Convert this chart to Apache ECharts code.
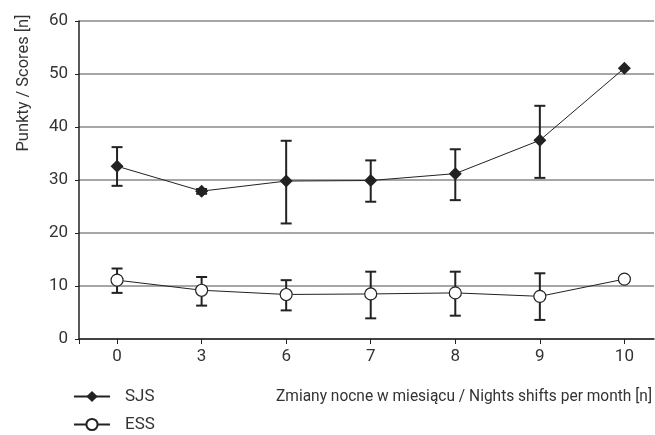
<!DOCTYPE html>
<html><head><meta charset="utf-8">
<script src="https://cdn.jsdelivr.net/npm/echarts@6/dist/echarts.min.js"></script>
<style>html,body{margin:0;padding:0;background:#fff}#c{width:655px;height:435px}</style>
</head><body><div id="c"></div>
<script>
var categories = ['0','3','6','7','8','9','10'];
var sjsValues = [32.6, 27.9, 29.8, 29.9, 31.2, 37.5, 51.1];
var sjsLow =    [28.9, 27.4, 21.8, 25.9, 26.2, 30.4, null];
var sjsHigh =   [36.2, 28.3, 37.4, 33.7, 35.8, 44.0, null];
var essValues = [11.1, 9.2, 8.4, 8.5, 8.7, 8.05, 11.3];
var essLow =    [8.7, 6.3, 5.4, 3.9, 4.4, 3.6, null];
var essHigh =   [13.3, 11.7, 11.1, 12.7, 12.7, 12.4, null];
var yTicks = [0, 10, 20, 30, 40, 50, 60];
var xTitle = 'Zmiany nocne w miesiącu / Nights shifts per month [n]';
var yTitle = 'Punkty / Scores [n]';

var FONT = "Roboto, 'Liberation Sans', sans-serif";
var idx = categories.map(function(_, i){ return i; });

function measure(t, size){
  var ctx = document.createElement('canvas').getContext('2d');
  ctx.font = size + 'px ' + FONT;
  return ctx.measureText(t).width;
}
var xScale = 376 / measure(xTitle, 17);
var yScale = 137 / measure(yTitle, 17);

function errData(lo, hi){
  var d = [];
  for (var i = 0; i < lo.length; i++) if (lo[i] != null) d.push([i, lo[i], hi[i]]);
  return d;
}
function errRender(params, api){
  var x = api.value(0);
  var a = api.coord([x, api.value(1)]);
  var b = api.coord([x, api.value(2)]);
  var w = 5.5;
  var st = {stroke:'#222', lineWidth:2};
  return {type:'group', children:[
    {type:'line', shape:{x1:a[0],y1:a[1],x2:b[0],y2:b[1]}, style:st},
    {type:'line', shape:{x1:a[0]-w,y1:a[1],x2:a[0]+w,y2:a[1]}, style:st},
    {type:'line', shape:{x1:b[0]-w,y1:b[1],x2:b[0]+w,y2:b[1]}, style:st}
  ]};
}
function legendFor(name, top){
  return {orient:'horizontal', left:73, top:top, padding:0, itemWidth:36, itemHeight:14,
    textStyle:{color:'#333', fontFamily:FONT, fontSize:17, padding:[0,0,0,10]},
    data:[name]};
}

var chart = echarts.init(document.getElementById('c'), null, {renderer:'canvas'});
chart.setOption({
  animation:false,
  backgroundColor:'#fff',
  grid:{left:79, right:1, top:21, bottom:96, containLabel:false},
  xAxis:{
    type:'value', min:-0.45, max:6.35,
    axisLine:{show:true, onZero:false, lineStyle:{color:'#222', width:1.5}},
    axisTick:{show:true, length:5, customValues:[-0.45].concat(idx), lineStyle:{color:'#222', width:1}},
    axisLabel:{customValues:idx, formatter:function(v){ return categories[Math.round(v)]; },
      color:'#333', fontFamily:FONT, fontSize:17, margin:9},
    splitLine:{show:false}
  },
  yAxis:{
    type:'value', min:0, max:60, interval:10,
    axisLine:{show:true, onZero:false, lineStyle:{color:'#222', width:1.5}},
    axisTick:{show:true, length:4, lineStyle:{color:'#222', width:1}},
    axisLabel:{color:'#333', fontFamily:FONT, fontSize:17, margin:11,
      formatter:function(v){ return yTicks.indexOf(v) >= 0 ? String(v) : ''; }},
    splitLine:{show:true, lineStyle:{color:'#888', width:1.5}}
  },
  legend:[legendFor('SJS', 388), legendFor('ESS', 416)],
  graphic:[
    {type:'text', x:24, y:83, rotation:Math.PI/2, scaleX:yScale,
      style:{text:yTitle, fill:'#333', font:"17px " + FONT, textAlign:'center', textVerticalAlign:'middle'}},
    {type:'text', x:652, y:397, scaleX:xScale,
      style:{text:xTitle, fill:'#333', font:"17px " + FONT, textAlign:'right', textVerticalAlign:'middle'}}
  ],
  series:[
    {type:'custom', name:'errSJS', renderItem:errRender, data:errData(sjsLow, sjsHigh), encode:{x:0, y:[1,2]}, z:2, silent:true},
    {type:'custom', name:'errESS', renderItem:errRender, data:errData(essLow, essHigh), encode:{x:0, y:[1,2]}, z:2, silent:true},
    {type:'line', name:'SJS', data:sjsValues.map(function(v,i){return [i,v];}), symbol:'diamond', symbolSize:13,
      lineStyle:{color:'#222', width:1}, itemStyle:{color:'#222', borderColor:'#222', borderWidth:0}, z:3},
    {type:'line', name:'ESS', data:essValues.map(function(v,i){return [i,v];}), symbol:'circle', symbolSize:12, showAllSymbol:true,
      lineStyle:{color:'#222', width:1}, itemStyle:{color:'#fff', borderColor:'#222', borderWidth:1.2}, z:3}
  ]
});
</script></body></html>
